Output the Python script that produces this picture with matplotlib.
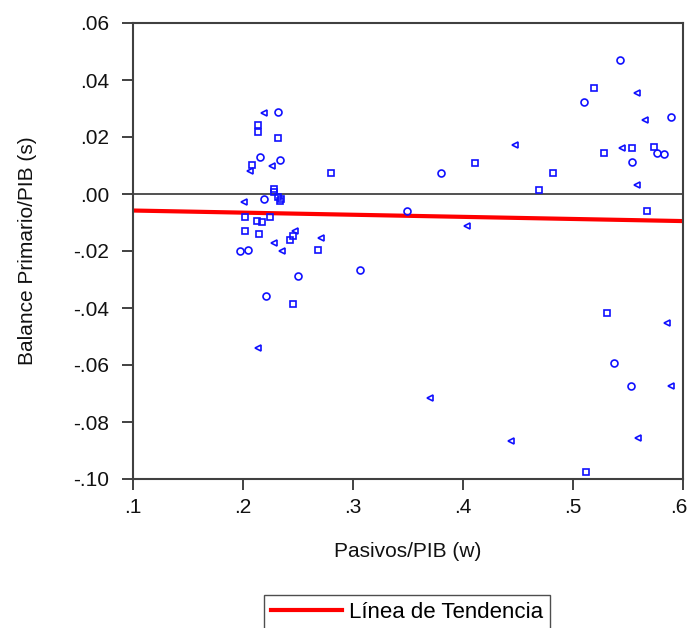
import numpy as np
import matplotlib.pyplot as plt
import matplotlib.transforms as mtransforms

plt.rcParams['font.family'] = ['Liberation Sans', 'DejaVu Sans']

# puntos (w = pasivos/PIB, s = balance primario/PIB)
circ_w = [0.2319, 0.2158, 0.2335, 0.2188, 0.1969, 0.2045, 0.2502, 0.2207,
          0.3803, 0.3489, 0.3066, 0.5430, 0.5101, 0.5890, 0.5768, 0.5829,
          0.5540, 0.5375, 0.5525]
circ_s = [0.0287, 0.0129, 0.0118, -0.0016, -0.0199, -0.0196, -0.0288, -0.0359,
          0.0072, -0.0059, -0.0265, 0.0469, 0.0322, 0.0271, 0.0145, 0.0142,
          0.0111, -0.0593, -0.0675]

sq_w = [0.2136, 0.2136, 0.2319, 0.2081, 0.2286, 0.2286, 0.2320, 0.2345,
        0.2335, 0.2021, 0.2127, 0.2173, 0.2249, 0.2015, 0.2146, 0.2453,
        0.2429, 0.2685, 0.2453, 0.2804, 0.4113, 0.4817, 0.4692, 0.5192,
        0.5284, 0.5540, 0.5738, 0.5677, 0.5311, 0.5120]
sq_s = [0.0242, 0.0216, 0.0197, 0.0102, 0.0019, 0.0008, -0.0010, -0.0018,
        -0.0023, -0.0081, -0.0094, -0.0099, -0.0080, -0.0129, -0.0141, -0.0148,
        -0.0162, -0.0197, -0.0386, 0.0072, 0.0109, 0.0072, 0.0014, 0.0373,
        0.0144, 0.0161, 0.0166, -0.0058, -0.0416, -0.0976]

tri_w = [0.2188, 0.2268, 0.2066, 0.2011, 0.2469, 0.2709, 0.2286, 0.2350,
         0.2140, 0.4476, 0.4040, 0.5580, 0.5653, 0.5449, 0.5580, 0.5854,
         0.5890, 0.4437, 0.5595, 0.3702]
tri_s = [0.0283, 0.0098, 0.0079, -0.0029, -0.0131, -0.0154, -0.0171, -0.0199,
         -0.0539, 0.0172, -0.0111, 0.0353, 0.0260, 0.0160, 0.0033, -0.0454,
         -0.0672, -0.0867, -0.0856, -0.0717]

# linea de tendencia (extremos)
trend_w = [0.1, 0.6]
trend_s = [-0.0058, -0.0095]

xticks = [0.1, 0.2, 0.3, 0.4, 0.5, 0.6]
xlabels = ['.1', '.2', '.3', '.4', '.5', '.6']
yticks = [0.06, 0.04, 0.02, 0.0, -0.02, -0.04, -0.06, -0.08, -0.10]
ylabels = ['.06', '.04', '.02', '.00', '-.02', '-.04', '-.06', '-.08', '-.10']

fig = plt.figure(figsize=(6.9, 6.28), dpi=100)
ax = fig.add_axes([133/690, 1 - 479/628, (683 - 133)/690, (479 - 23)/628])

ax.axhline(0, color='#333333', lw=1.2, zorder=1)
mk = dict(ls='none', mfc='none', mec='#1010ff', mew=1.2, zorder=3)
ax.plot(circ_w, circ_s, marker='o', ms=5, **mk)
ax.plot(sq_w, sq_s, marker='s', ms=4.5, **mk)
ax.plot(tri_w, tri_s, marker='<', ms=5, **mk)
line, = ax.plot(trend_w, trend_s, color='#ff0000', lw=3, zorder=2)

ax.set_xlim(0.1, 0.6)
ax.set_ylim(-0.10, 0.06)
ax.set_xticks(xticks)
ax.set_xticklabels(xlabels)
ax.set_yticks(yticks)
ax.set_yticklabels(ylabels)
ax.tick_params(axis='both', direction='out', length=8, width=1.3,
               color='#333333', labelsize=15, labelcolor='#111111')
ax.tick_params(axis='x', pad=6)
ax.tick_params(axis='y', pad=9)
for sp in ax.spines.values():
    sp.set_color('#404040')
    sp.set_linewidth(1.5)

# la ultima etiqueta del eje x queda pegada al borde, correrla un poco
last = ax.get_xticklabels()[-1]
last.set_transform(last.get_transform() +
                   mtransforms.ScaledTranslation(-3/72, 0, fig.dpi_scale_trans))

ax.set_xlabel('Pasivos/PIB (w)', fontsize=15, color='#111111', labelpad=18)
ax.set_ylabel('Balance Primario/PIB (s)', fontsize=15, color='#111111', labelpad=26)

fig.legend([line], ['Línea de Tendencia'], loc='upper center',
           bbox_to_anchor=(407/690, 1 - 595/628), fontsize=16, frameon=True,
           fancybox=False, edgecolor='#222222', handlelength=3.2,
           handletextpad=0.3, borderpad=0.3, borderaxespad=0)

fig.savefig('out.png', dpi=100)
